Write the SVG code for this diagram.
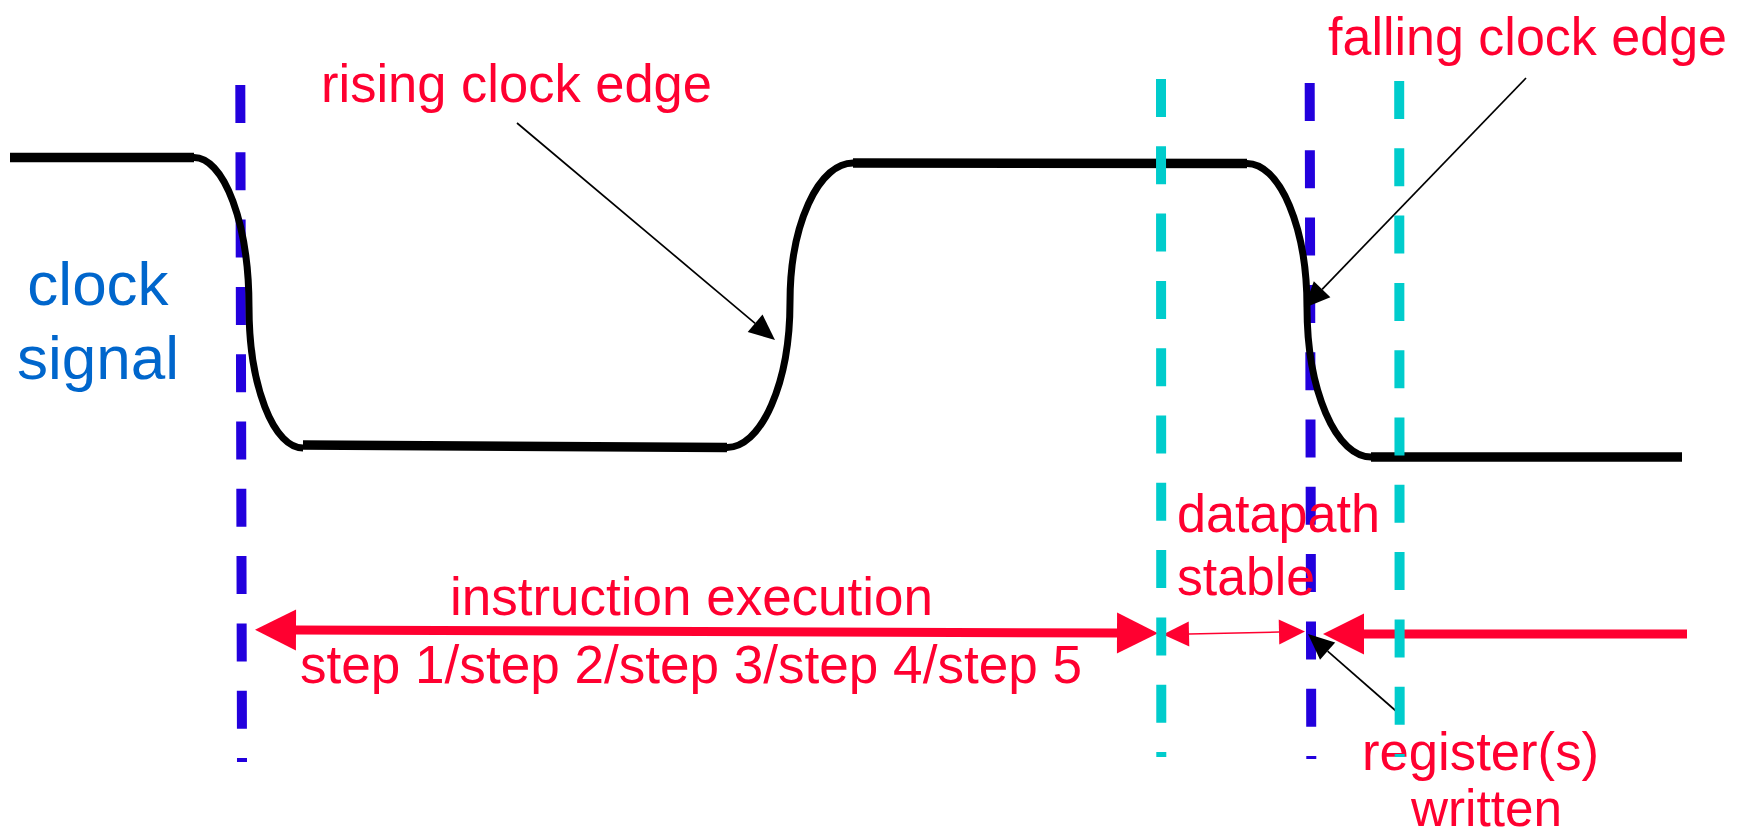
<svg xmlns="http://www.w3.org/2000/svg" width="1753" height="834" viewBox="0 0 1753 834">
  <style>
    .wave { fill: none; stroke: #000; stroke-width: 9.5; }
    .edge { fill: none; stroke: #000; stroke-width: 7; }
    .clk { fill: none; stroke: #2200DD; stroke-width: 10; stroke-dasharray: 38 29.3; }
    .stab { fill: none; stroke: #00CCCC; stroke-width: 10; stroke-dasharray: 38 29.3; }
    .span { fill: none; stroke: #FF0030; stroke-width: 9; }
    .thin { fill: none; stroke: #FF0030; stroke-width: 1.5; }
    .ptr { fill: none; stroke: #000; stroke-width: 1.7; }
    .lbl { font-family: "Liberation Sans", Arial, sans-serif; fill: #FF0030; }
    .sig { font-family: "Liberation Sans", Arial, sans-serif; fill: #0066CC; font-size: 62px; text-anchor: middle; }
  </style>
  <defs>
    <marker id="bigHead" viewBox="0 -21 41 42" refX="0" refY="0" markerWidth="41" markerHeight="42" markerUnits="userSpaceOnUse" orient="auto-start-reverse" overflow="visible">
      <path d="M0,-20.5 L41,0 L0,20.5 Z" fill="#FF0030"/>
    </marker>
    <marker id="smallHead" viewBox="0 -13 26 26" refX="0" refY="0" markerWidth="26" markerHeight="26" markerUnits="userSpaceOnUse" orient="auto-start-reverse" overflow="visible">
      <path d="M0,-12.5 L26,0 L0,12.5 Z" fill="#FF0030"/>
    </marker>
    <marker id="ptrHead" viewBox="0 -12 26 24" refX="0" refY="0" markerWidth="26" markerHeight="24" markerUnits="userSpaceOnUse" orient="auto" overflow="visible">
      <path d="M0,-11.5 L26,0 L0,11.5 Z" fill="#000"/>
    </marker>
  </defs>

  <!-- clock edge markers (blue dashed) -->
  <g id="clock-edges">
    <line class="clk" x1="240.3" y1="85" x2="242" y2="762"/>
    <line class="clk" x1="1309.7" y1="83" x2="1311.3" y2="759"/>
  </g>

  <!-- clock waveform -->
  <g id="clock-waveform">
    <line class="wave" x1="10" y1="157.5" x2="194" y2="157.5"/>
    <path class="edge" d="M194,157.5 A55,149.5 0 0 1 249,307 A54,141 0 0 0 303,448"/>
    <line class="wave" x1="303" y1="445" x2="727" y2="447.5"/>
    <path class="edge" d="M727,447.5 A63,145.5 0 0 0 790,302 A63,139 0 0 1 853,163"/>
    <line class="wave" x1="853" y1="163" x2="1247" y2="163.5"/>
    <path class="edge" d="M1247,163.5 A60,143.5 0 0 1 1307,307 A64,150 0 0 0 1371,457"/>
    <line class="wave" x1="1371" y1="457" x2="1682" y2="457"/>
  </g>

  <!-- timing spans and pointers -->
  <g id="connectors">
    <line id="span-execution" class="span" x1="296" y1="630" x2="1117" y2="633" marker-start="url(#bigHead)" marker-end="url(#bigHead)"/>
    <line id="span-stable" class="thin" x1="1189" y1="634" x2="1279" y2="632" marker-start="url(#smallHead)" marker-end="url(#smallHead)"/>
    <line id="span-write" class="span" x1="1687" y1="634" x2="1364" y2="634" marker-end="url(#bigHead)"/>
    <line id="ptr-rising" class="ptr" x1="517" y1="123" x2="755.1" y2="323.3" marker-end="url(#ptrHead)"/>
    <line id="ptr-falling" class="ptr" x1="1526" y1="78" x2="1322.1" y2="289.3" marker-end="url(#ptrHead)"/>
    <line id="ptr-register" class="ptr" x1="1396" y1="711" x2="1327.6" y2="651.1" marker-end="url(#ptrHead)"/>
  </g>

  <!-- labels -->
  <g id="label-clock-signal">
    <text class="sig" x="98" y="305">clock</text>
    <text class="sig" x="98" y="379">signal</text>
  </g>
  <g id="label-rising">
    <text class="lbl" x="321" y="102" font-size="54" textLength="391" lengthAdjust="spacingAndGlyphs">rising clock edge</text>
  </g>
  <g id="label-falling">
    <text class="lbl" x="1328" y="55" font-size="54" textLength="399" lengthAdjust="spacingAndGlyphs">falling clock edge</text>
  </g>
  <g id="label-execution">
    <text class="lbl" x="450" y="615" font-size="54" textLength="483" lengthAdjust="spacingAndGlyphs">instruction execution</text>
    <text class="lbl" x="300" y="683" font-size="54" textLength="782" lengthAdjust="spacingAndGlyphs">step 1/step 2/step 3/step 4/step 5</text>
  </g>
  <g id="label-stable">
    <text class="lbl" x="1177" y="532" font-size="53" textLength="203" lengthAdjust="spacingAndGlyphs">datapath</text>
    <text class="lbl" x="1177" y="595" font-size="53" textLength="138" lengthAdjust="spacingAndGlyphs">stable</text>
  </g>
  <g id="label-register">
    <text class="lbl" x="1362" y="770" font-size="53" textLength="237" lengthAdjust="spacingAndGlyphs">register(s)</text>
    <text class="lbl" x="1411" y="826" font-size="52" textLength="151" lengthAdjust="spacingAndGlyphs">written</text>
  </g>

  <!-- datapath-stable window markers (cyan dashed) -->
  <g id="stable-window">
    <line class="stab" x1="1161" y1="79" x2="1161.3" y2="757"/>
    <line class="stab" x1="1399.2" y1="81" x2="1399.7" y2="757"/>
  </g>
</svg>
